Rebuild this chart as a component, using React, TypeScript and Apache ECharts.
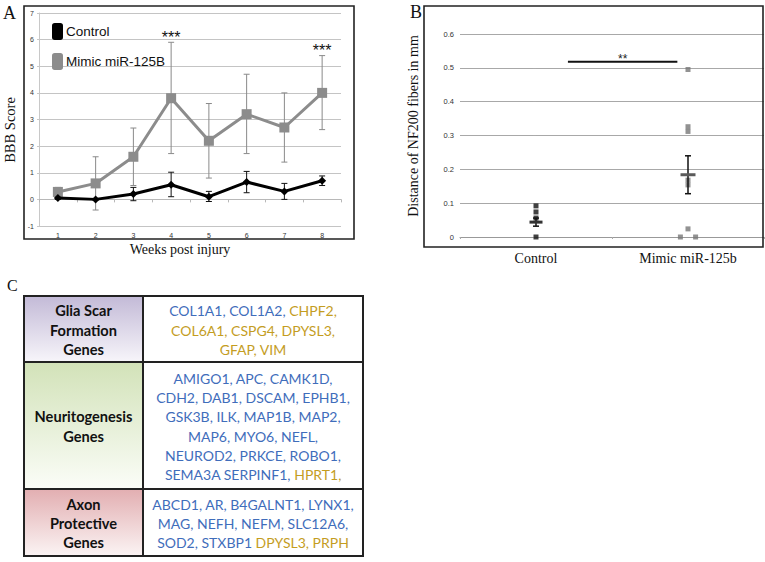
import React, { useEffect, useRef } from "react";
import * as echarts from "echarts";

// ---------- Panel A data ----------
const weeks = ["1", "2", "3", "4", "5", "6", "7", "8"];
const controlMean = [0.05, 0.0, 0.2, 0.55, 0.1, 0.65, 0.3, 0.7];
const controlLow = [0.0, -0.02, -0.05, 0.1, -0.08, 0.25, 0.0, 0.52];
const controlHigh = [0.1, 0.02, 0.45, 1.02, 0.3, 1.05, 0.6, 0.88];
const mimicMean = [0.28, 0.6, 1.6, 3.8, 2.2, 3.2, 2.7, 4.0];
const mimicLow = [0.1, -0.4, 0.52, 1.72, 0.8, 1.72, 1.4, 2.62];
const mimicHigh = [0.45, 1.6, 2.68, 5.9, 3.6, 4.7, 4.0, 5.4];
const mimicSig = ["", "", "", "***", "", "", "", "***"];

// ---------- Panel B data ----------
const groups = ["Control", "Mimic miR-125b"];
const controlPoints = [0.092, 0.074, 0.056, 0.0];
const controlOffsets = [0, 0, 0, 0];
const mimicPoints = [0.495, 0.326, 0.312, 0.168, 0.154, 0.024, 0.0, 0.0];
const mimicOffsets = [0, 0, 0, 0, 0, 0, -0.05, 0.05];
const groupMean = [0.044, 0.184];
const groupLow = [0.032, 0.128];
const groupHigh = [0.056, 0.24];
const sigFrom = 0.21;
const sigTo = 0.93;
const sigLevel = 0.518;
const sigLabel = "**";

// ---------- Panel C data ----------
type Seg = [string, "b" | "g"];
const rowTitles = [
  ["Glia Scar", "Formation", "Genes"],
  ["Neuritogenesis", "Genes"],
  ["Axon", "Protective", "Genes"],
];
const gliaLines: Seg[][] = [
  [["COL1A1, COL1A2, ", "b"], ["CHPF2,", "g"]],
  [["COL6A1, CSPG4, DPYSL3,", "g"]],
  [["GFAP, VIM", "g"]],
];
const neuritoLines: Seg[][] = [
  [["AMIGO1, APC, CAMK1D,", "b"]],
  [["CDH2, DAB1, DSCAM, EPHB1,", "b"]],
  [["GSK3B, ILK, MAP1B, MAP2,", "b"]],
  [["MAP6, MYO6, NEFL,", "b"]],
  [["NEUROD2, PRKCE, ROBO1,", "b"]],
  [["SEMA3A SERPINF1, ", "b"], ["HPRT1,", "g"]],
];
const axonLines: Seg[][] = [
  [["ABCD1, AR, B4GALNT1, LYNX1,", "b"]],
  [["MAG, NEFH, NEFM, SLC12A6,", "b"]],
  [["SOD2, STXBP1 ", "b"], ["DPYSL3, PRPH", "g"]],
];
const geneRows = [gliaLines, neuritoLines, axonLines];

const SERIF = "'Liberation Serif', 'Times New Roman', serif";
const SANS = "'Liberation Sans', Arial, sans-serif";
const CAL = "Lato, 'Open Sans', sans-serif";

function buildTable(): any[] {
  const els: any[] = [];
  const x0 = 24, xm = 143, x1 = 363;
  const ys = [296, 362, 489, 556];
  const grads = [
    ["#c3bad7", "#f7f5fa"],
    ["#d2e2b8", "#fbfdf8"],
    ["#e2aeb1", "#fbf4f4"],
  ];
  const lh = 19.2;
  for (let r = 0; r < 3; r++) {
    const top = ys[r], bot = ys[r + 1];
    els.push({
      type: "rect",
      shape: { x: x0, y: top, width: xm - x0, height: bot - top },
      style: {
        fill: {
          type: "linear", x: 0, y: 0, x2: 0, y2: 1,
          colorStops: [{ offset: 0, color: grads[r][0] }, { offset: 1, color: grads[r][1] }],
        },
      },
      z: 1,
    });
    const cy = (top + bot) / 2 + 1;
    const titles = rowTitles[r];
    titles.forEach((t, i) => {
      els.push({
        type: "text",
        x: (x0 + xm) / 2,
        y: cy + (i - (titles.length - 1) / 2) * lh,
        style: { text: t, align: "center", verticalAlign: "middle", font: `bold 14.6px ${CAL}`, fill: "#111" },
        z: 3,
      });
    });
    const lines = geneRows[r];
    lines.forEach((segs, i) => {
      const txt = segs.map(([s, c]) => `{${c}|${s}}`).join("");
      els.push({
        type: "text",
        x: (xm + x1) / 2,
        y: cy + (i - (lines.length - 1) / 2) * lh,
        style: {
          text: txt,
          align: "center",
          verticalAlign: "middle",
          font: `14px ${CAL}`,
          rich: {
            b: { fill: "#3f6dbb", fontSize: 14, fontFamily: CAL },
            g: { fill: "#c49d1f", fontSize: 14, fontFamily: CAL },
          },
        },
        z: 3,
      });
    });
  }
  els.push({ type: "rect", shape: { x: x0, y: ys[0], width: x1 - x0, height: ys[3] - ys[0] }, style: { fill: "none", stroke: "#222", lineWidth: 2 }, z: 4 });
  els.push({ type: "line", shape: { x1: xm, y1: ys[0], x2: xm, y2: ys[3] }, style: { stroke: "#222", lineWidth: 2 }, z: 4 });
  els.push({ type: "line", shape: { x1: x0, y1: ys[1], x2: x1, y2: ys[1] }, style: { stroke: "#222", lineWidth: 2 }, z: 4 });
  els.push({ type: "line", shape: { x1: x0, y1: ys[2], x2: x1, y2: ys[2] }, style: { stroke: "#222", lineWidth: 2 }, z: 4 });
  return els;
}

function errorBarSeries(name: string, low: number[], high: number[], sig: string[] | null, color: string) {
  return {
    type: "custom",
    name: name + "-err",
    xAxisIndex: 0,
    yAxisIndex: 0,
    z: 3,
    encode: { x: 0, y: [1, 2] },
    data: low.map((l, i) => [i, l, high[i]]),
    renderItem: (params: any, api: any) => {
      const x = api.value(0);
      const lo = api.coord([x, api.value(1)]);
      const hi = api.coord([x, api.value(2)]);
      const cap = 3;
      const style = { stroke: color, lineWidth: 1 };
      const children: any[] = [
        { type: "line", shape: { x1: lo[0], y1: lo[1], x2: hi[0], y2: hi[1] }, style },
        { type: "line", shape: { x1: hi[0] - cap, y1: hi[1], x2: hi[0] + cap, y2: hi[1] }, style },
        { type: "line", shape: { x1: lo[0] - cap, y1: lo[1], x2: lo[0] + cap, y2: lo[1] }, style },
      ];
      const s = sig ? sig[params.dataIndex] : "";
      if (s) {
        children.push({
          type: "text",
          x: hi[0],
          y: hi[1] + 3,
          style: { text: s, align: "center", verticalAlign: "bottom", font: `16px ${SANS}`, fill: "#111" },
        });
      }
      return { type: "group", children };
    },
  };
}

export default function App() {
  const ref = useRef<HTMLDivElement>(null);
  useEffect(() => {
    if (!ref.current) return;
    const chart = echarts.init(ref.current, undefined, { renderer: "svg" });
    const meanColors = ["#333", "#5a5a5a"];
    const option: any = {
      animation: false,
      backgroundColor: "#fff",
      textStyle: { fontFamily: SANS },
      grid: [
        { left: 39, top: 13, width: 302, height: 213 },
        { left: 460, top: 34, width: 304, height: 203 },
      ],
      legend: {
        orient: "vertical",
        left: 47,
        top: 18,
        itemWidth: 11,
        itemHeight: 17,
        itemGap: 13,
        textStyle: { fontSize: 13.5, fontFamily: SANS, color: "#111", padding: [0, 0, 0, -2] },
        data: [
          { name: "Control", icon: "roundRect" },
          { name: "Mimic miR-125B", icon: "roundRect" },
        ],
      },
      xAxis: [
        {
          gridIndex: 0,
          type: "category",
          data: weeks,
          boundaryGap: true,
          axisLine: { onZero: true, lineStyle: { color: "#b8b8b8" } },
          axisTick: { show: true, length: 3, lineStyle: { color: "#b8b8b8" } },
          axisLabel: { fontSize: 7, color: "#333", margin: 6 },
        },
        {
          gridIndex: 1,
          type: "category",
          data: groups,
          boundaryGap: true,
          axisLine: { lineStyle: { color: "#999" } },
          axisTick: { show: true, length: 2, lineStyle: { color: "#aaa" } },
          axisLabel: { fontSize: 14, fontFamily: SERIF, color: "#111", margin: 14 },
        },
        { gridIndex: 1, type: "value", min: -0.5, max: 1.5, show: false },
      ],
      yAxis: [
        {
          gridIndex: 0,
          type: "value",
          min: -1,
          max: 7,
          interval: 1,
          axisLine: { show: true, lineStyle: { color: "#c8c8c8" } },
          axisTick: { show: true, length: 2, lineStyle: { color: "#c8c8c8" } },
          axisLabel: { fontSize: 7, color: "#333", margin: 5 },
          splitLine: { lineStyle: { color: "#c4c4c4" } },
        },
        {
          gridIndex: 1,
          type: "value",
          min: 0,
          max: 0.6,
          interval: 0.1,
          axisLine: { show: false },
          axisTick: { show: true, length: 3, lineStyle: { color: "#aaa" } },
          axisLabel: { fontSize: 7.5, color: "#333", margin: 6, formatter: (v: number) => (v === 0 ? "0" : v.toFixed(1)) },
          splitLine: { lineStyle: { color: "#a8a8a8" } },
        },
      ],
      series: [
        errorBarSeries("Mimic", mimicLow, mimicHigh, mimicSig, "#8a8a8a"),
        errorBarSeries("Control", controlLow, controlHigh, null, "#111"),
        {
          type: "line",
          name: "Mimic miR-125B",
          xAxisIndex: 0,
          yAxisIndex: 0,
          data: mimicMean,
          color: "#8c8c8c",
          lineStyle: { width: 3, color: "#8c8c8c" },
          symbol: "rect",
          symbolSize: 10,
          itemStyle: { color: "#8c8c8c" },
          z: 4,
        },
        {
          type: "line",
          name: "Control",
          xAxisIndex: 0,
          yAxisIndex: 0,
          data: controlMean,
          color: "#000",
          lineStyle: { width: 3, color: "#000" },
          symbol: "diamond",
          symbolSize: 8,
          itemStyle: { color: "#000" },
          z: 5,
        },
        {
          type: "scatter",
          xAxisIndex: 2,
          yAxisIndex: 1,
          data: controlPoints.map((v, i) => [0 + controlOffsets[i], v]),
          symbol: "rect",
          symbolSize: 5,
          itemStyle: { color: "#111" },
          z: 3,
        },
        {
          type: "scatter",
          xAxisIndex: 2,
          yAxisIndex: 1,
          data: mimicPoints.map((v, i) => [1 + mimicOffsets[i], v]),
          symbol: "rect",
          symbolSize: 5,
          itemStyle: { color: "#777" },
          z: 3,
        },
        {
          type: "custom",
          xAxisIndex: 2,
          yAxisIndex: 1,
          z: 6,
          encode: { x: 0, y: [1, 2, 3] },
          data: groupMean.map((m, i) => [i, m, groupLow[i], groupHigh[i]]),
          renderItem: (params: any, api: any) => {
            const x = api.value(0);
            const pm = api.coord([x, api.value(1)]);
            const pl = api.coord([x, api.value(2)]);
            const ph = api.coord([x, api.value(3)]);
            const es = { stroke: "#111", lineWidth: 1.5 };
            const cap = 3;
            const half = params.dataIndex === 0 ? 6.5 : 7.5;
            return {
              type: "group",
              children: [
                { type: "line", shape: { x1: pl[0], y1: pl[1], x2: ph[0], y2: ph[1] }, style: es },
                { type: "line", shape: { x1: ph[0] - cap, y1: ph[1], x2: ph[0] + cap, y2: ph[1] }, style: es },
                { type: "line", shape: { x1: pl[0] - cap, y1: pl[1], x2: pl[0] + cap, y2: pl[1] }, style: es },
                {
                  type: "line",
                  shape: { x1: pm[0] - half, y1: pm[1], x2: pm[0] + half, y2: pm[1] },
                  style: { stroke: meanColors[params.dataIndex], lineWidth: 3 },
                },
              ],
            };
          },
        },
        {
          type: "custom",
          xAxisIndex: 2,
          yAxisIndex: 1,
          z: 6,
          encode: { x: [0, 1], y: 2 },
          data: [[sigFrom, sigTo, sigLevel]],
          renderItem: (params: any, api: any) => {
            const a = api.coord([api.value(0), api.value(2)]);
            const b = api.coord([api.value(1), api.value(2)]);
            return {
              type: "group",
              children: [
                { type: "line", shape: { x1: a[0], y1: a[1], x2: b[0], y2: b[1] }, style: { stroke: "#111", lineWidth: 1.8 } },
                {
                  type: "text",
                  x: (a[0] + b[0]) / 2,
                  y: a[1] + 3,
                  style: { text: sigLabel, align: "center", verticalAlign: "bottom", font: `12px ${SANS}`, fill: "#222" },
                },
              ],
            };
          },
        },
      ],
      graphic: [
        { type: "rect", shape: { x: 24, y: 6, width: 330, height: 233 }, style: { fill: "none", stroke: "#222", lineWidth: 1.6 }, z: 10 },
        { type: "rect", shape: { x: 424, y: 6, width: 339, height: 241 }, style: { fill: "none", stroke: "#222", lineWidth: 1.6 }, z: 10 },
        { type: "text", x: 3, y: 13, style: { text: "A", font: `18px ${SERIF}`, fill: "#111", verticalAlign: "middle" } },
        { type: "text", x: 410, y: 12, style: { text: "B", font: `18px ${SERIF}`, fill: "#111", verticalAlign: "middle" } },
        { type: "text", x: 7, y: 285, style: { text: "C", font: `16px ${SERIF}`, fill: "#111", verticalAlign: "middle" } },
        { type: "text", x: 10, y: 130, rotation: Math.PI / 2, style: { text: "BBB Score", font: `14.5px ${SERIF}`, fill: "#111", align: "center", verticalAlign: "middle" } },
        { type: "text", x: 180, y: 249, style: { text: "Weeks post injury", font: `14px ${SERIF}`, fill: "#111", align: "center", verticalAlign: "middle" } },
        { type: "text", x: 413, y: 126, rotation: Math.PI / 2, style: { text: "Distance of NF200 fibers in mm", font: `14px ${SERIF}`, fill: "#111", align: "center", verticalAlign: "middle" } },
        ...buildTable(),
      ],
    };
    chart.setOption(option);
    return () => chart.dispose();
  }, []);
  return <div ref={ref} style={{ position: "absolute", left: 0, top: 0, width: 765, height: 562 }} />;
}
